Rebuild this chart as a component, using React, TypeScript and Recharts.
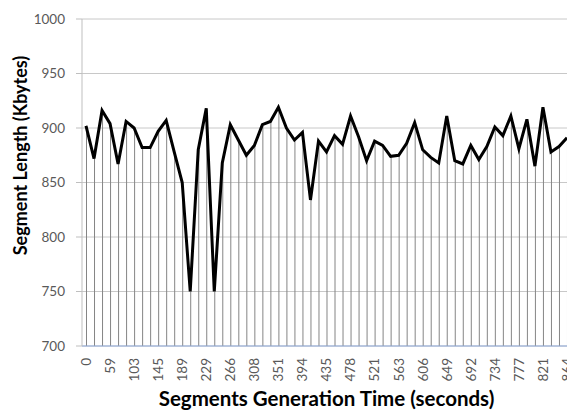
import { ComposedChart, Line, Bar, XAxis, YAxis, CartesianGrid, Label } from 'recharts';

// x tick labels, one for every third segment
const timeLabels = ['0', '59', '103', '145', '189', '229', '266', '308', '351', '394', '435', '478', '521', '563', '606', '649', '692', '734', '777', '821', '864'];

// segment length per segment (Kbytes)
const segmentKb = [
  902, 872, 916, 904, 867, 906, 900, 882, 882, 897,
  907, 878, 850, 750, 880, 918, 750, 868, 903, 889,
  875, 884, 903, 906, 919, 900, 889, 896, 834, 888,
  878, 893, 885, 911, 892, 870, 888, 884, 874, 875,
  886, 905, 880, 873, 868, 911, 870, 867, 884, 871,
  883, 901, 893, 911, 881, 908, 865, 919, 878, 883,
  891,
];

const yTicks = [700, 750, 800, 850, 900, 950, 1000];

const data = segmentKb.map((kb, i) => ({ i, kb }));

const font = 'Lato, "Open Sans", sans-serif';

function TimeTick({ x, y, payload }: any) {
  const i = payload.value as number;
  const label = i % 3 === 0 ? timeLabels[i / 3] : '';
  return (
    <g transform={`translate(${x},${y})`}>
      <text transform="rotate(-90)" textAnchor="end" dy="0.36em" fill="#595959" fontSize={13.5} fontFamily={font}>
        {label}
      </text>
    </g>
  );
}

export default function App() {
  return (
    <div style={{ position: 'fixed', left: 0, top: 0, width: 567, height: 410, overflow: 'hidden', background: '#fff' }}>
      <ComposedChart width={571} height={410} data={data} margin={{ top: 19, right: 0, bottom: 0, left: 0 }}>
        <CartesianGrid vertical={false} stroke="#c8c8c8" />
        <XAxis
          dataKey="i"
          height={64}
          interval={2}
          tickLine={false}
          tickSize={6}
          tickMargin={6}
          axisLine={{ stroke: '#8faadc' }}
          tick={<TimeTick />}
        >
          <Label
            value="Segments Generation Time (seconds)"
            position="insideBottom"
            offset={4}
            style={{ fontFamily: font, fontWeight: 700, fontSize: 20.5, fill: '#000' }}
          />
        </XAxis>
        <YAxis
          width={82}
          domain={[700, 1000]}
          ticks={yTicks}
          allowDataOverflow
          axisLine={{ stroke: '#bfbfbf' }}
          tickLine={{ stroke: '#bfbfbf' }}
          tickSize={6}
          tickMargin={11}
          tick={{ fill: '#595959', fontSize: 13.5, fontFamily: font }}
        >
          <Label
            content={({ viewBox }: any) => {
              const cx = viewBox.x + 20;
              const cy = viewBox.y + viewBox.height / 2 - 27;
              return (
                <text
                  x={cx}
                  y={cy}
                  transform={`rotate(-90, ${cx}, ${cy})`}
                  textAnchor="middle"
                  dominantBaseline="central"
                  fontFamily={font}
                  fontWeight={700}
                  fontSize={18}
                  fill="#000"
                >
                  Segment Length (Kbytes)
                </text>
              );
            }}
          />
        </YAxis>
        <Bar dataKey="kb" barSize={1} fill="#858585" isAnimationActive={false} />
        <Line type="linear" dataKey="kb" stroke="#000" strokeWidth={3} dot={false} isAnimationActive={false} />
      </ComposedChart>
    </div>
  );
}
